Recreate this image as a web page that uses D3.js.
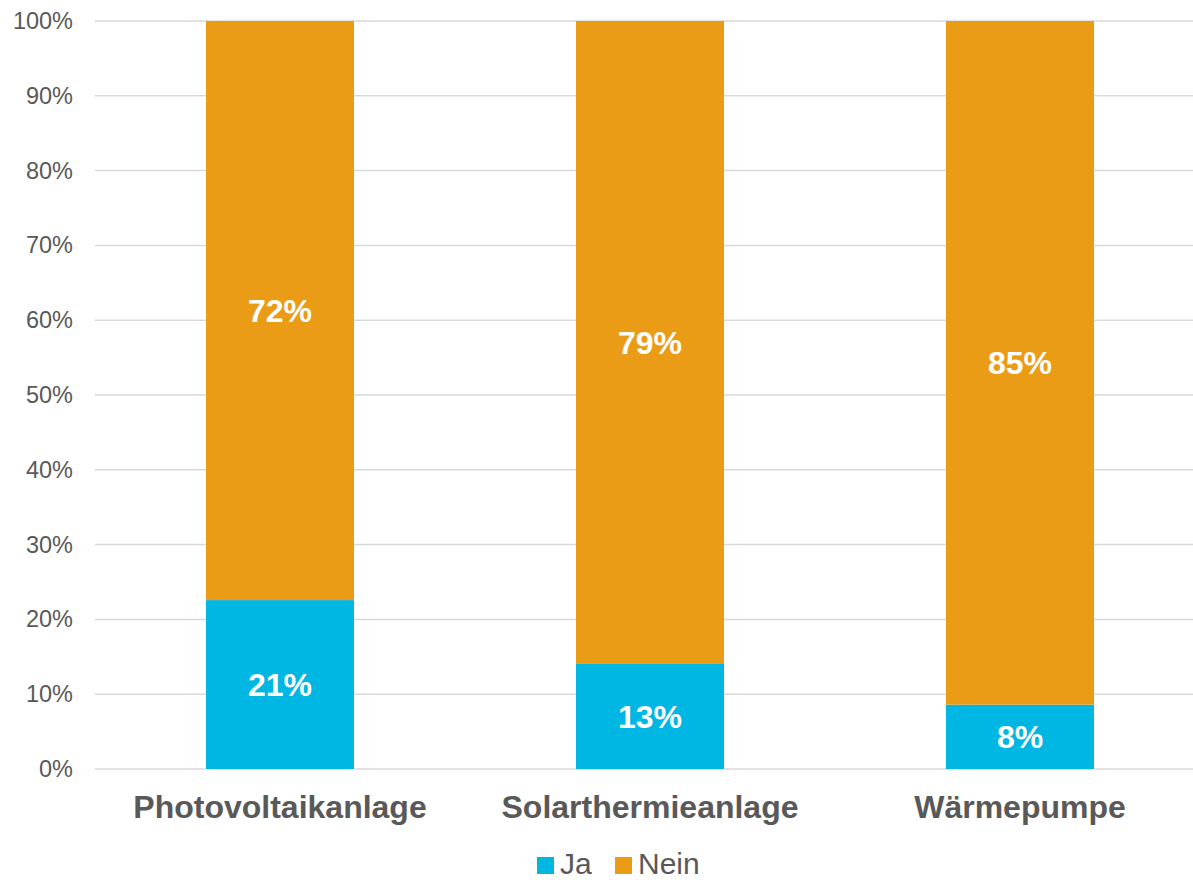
<!DOCTYPE html>
<html>
<head>
<meta charset="utf-8">
<script src="https://cdn.jsdelivr.net/npm/d3@7"></script>
<style>
  body { margin: 0; background: #fff; }
  svg { display: block; font-family: "Liberation Sans", Arial, sans-serif; }
</style>
</head>
<body>
<svg id="chart" width="1193" height="880"></svg>
<script>
// Data
var categories = ["Photovoltaikanlage", "Solarthermieanlage", "Wärmepumpe"];
var ja = [21, 13, 8];
var nein = [72, 79, 85];
var seriesNames = ["Ja", "Nein"];
var colors = ["#00B6E3", "#EB9C17"];
var yTicks = [0, 0.1, 0.2, 0.3, 0.4, 0.5, 0.6, 0.7, 0.8, 0.9, 1];

var svg = d3.select("#chart");
var width = 1193;

var rows = categories.map(function(c, i) {
    return { cat: c, Ja: ja[i], Nein: nein[i] };
});

var x = d3.scaleBand()
    .domain(categories)
    .range([95, 1205])
    .paddingInner(0.6)
    .paddingOuter(0.3);

var y = d3.scaleLinear()
    .domain([0, 1])
    .range([769, 21]);

// gridlines
svg.append("g")
    .selectAll("line")
    .data(yTicks)
    .enter()
    .append("line")
    .attr("x1", 95)
    .attr("x2", width)
    .attr("y1", d => y(d))
    .attr("y2", d => y(d))
    .attr("stroke", "#d9d9d9")
    .attr("stroke-width", 1.5);

// y axis labels
var yAxis = d3.axisLeft(y)
    .tickValues(yTicks)
    .tickFormat(d3.format(".0%"))
    .tickSize(0)
    .tickPadding(0);

svg.append("g")
    .attr("transform", "translate(73,0)")
    .call(yAxis)
    .call(g => g.select(".domain").remove())
    .selectAll("text")
    .attr("fill", "#595959")
    .style("font-size", "23.5px");

// stack, normalised to 100%
var stack = d3.stack()
    .keys(seriesNames)
    .offset(d3.stackOffsetExpand);

var layers = stack(rows);

var groups = svg.append("g")
    .selectAll("g")
    .data(layers)
    .enter()
    .append("g")
    .attr("fill", (d, i) => colors[i]);

groups.selectAll("rect")
    .data(d => d)
    .enter()
    .append("rect")
    .attr("x", d => x(d.data.cat))
    .attr("width", x.bandwidth())
    .attr("y", d => y(d[1]))
    .attr("height", d => y(d[0]) - y(d[1]));

// value labels
groups.each(function(layer) {
    d3.select(this)
        .selectAll("text")
        .data(layer)
        .enter()
        .append("text")
        .attr("x", d => x(d.data.cat) + x.bandwidth() / 2)
        .attr("y", d => (y(d[0]) + y(d[1])) / 2)
        .attr("dy", "0.36em")
        .attr("text-anchor", "middle")
        .attr("fill", "#fff")
        .style("font-size", "32px")
        .style("font-weight", "bold")
        .text(d => d.data[layer.key] + "%");
});

// category labels
var xAxis = d3.axisBottom(x).tickSize(0).tickPadding(0);
svg.append("g")
    .attr("transform", "translate(0,818)")
    .call(xAxis)
    .call(g => g.select(".domain").remove())
    .selectAll("text")
    .attr("y", 0)
    .attr("dy", 0)
    .attr("fill", "#595959")
    .style("font-size", "32px")
    .style("font-weight", "bold");

// legend
var legendX = [537, 615];
var legend = svg.append("g")
    .selectAll("g")
    .data(seriesNames)
    .enter()
    .append("g")
    .attr("transform", (d, i) => "translate(" + legendX[i] + ",857)");

legend.append("rect")
    .attr("width", 17)
    .attr("height", 17)
    .attr("fill", (d, i) => colors[i]);

legend.append("text")
    .attr("x", 23)
    .attr("y", 17)
    .attr("fill", "#595959")
    .style("font-size", "30px")
    .text(d => d);
</script>
</body>
</html>
